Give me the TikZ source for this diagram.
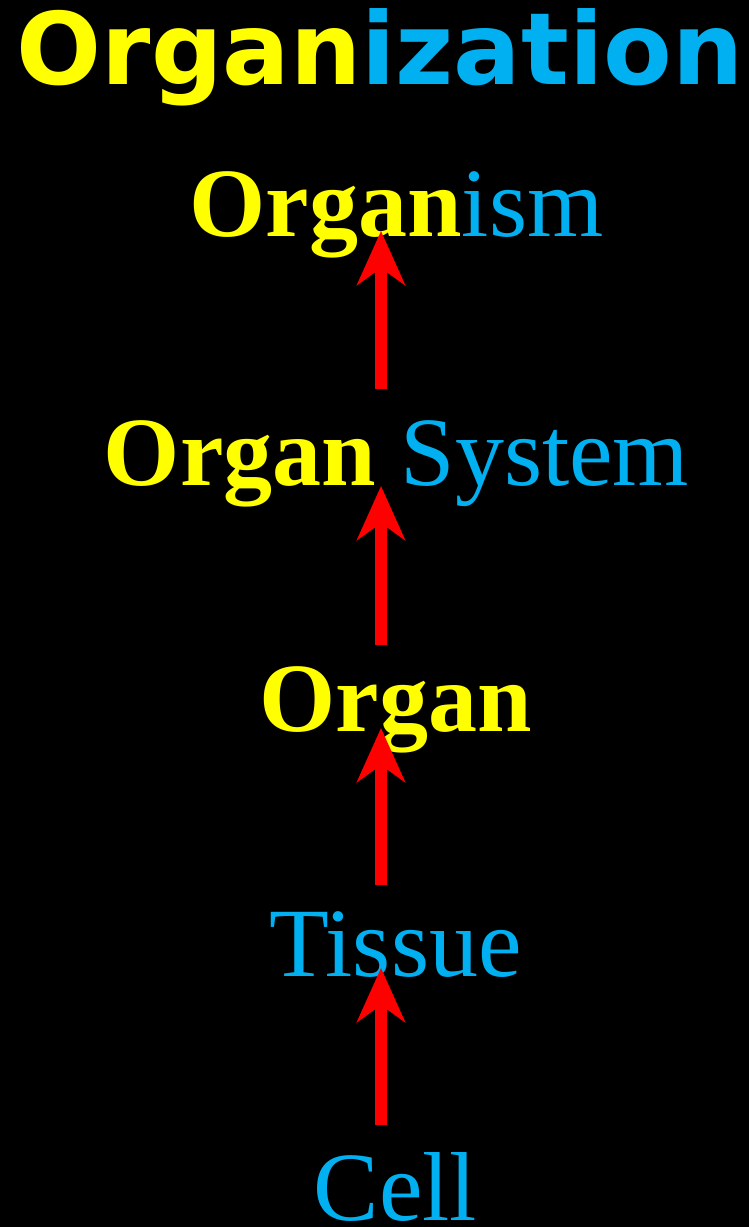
\documentclass[tikz,border=0pt]{standalone}
\usepackage{fontspec}
\setmainfont{Liberation Serif}
\newfontfamily\titlefont{DejaVu Sans}
\usetikzlibrary{arrows.meta}
\definecolor{ylw}{RGB}{255,255,0}
\definecolor{cyn}{RGB}{0,176,240}
\definecolor{rd}{RGB}{255,0,0}
\begin{document}
\begin{tikzpicture}[x=1pt,y=-1pt,
  lbl/.style={anchor=base,inner sep=0pt,font=\fontsize{98}{110}\selectfont},
  arr/.style={draw=rd,line width=12pt,-{Stealth[length=54pt,width=48pt,inset=17pt,fill=rd]}}]
\fill[black] (0,0) rectangle (749,1227);
\useasboundingbox (0,0) rectangle (749,1227);
\node[anchor=base,inner sep=0pt,font=\titlefont\bfseries\fontsize{100}{110}\selectfont] (title) at (380,84) {\textcolor{ylw}{Organ}\textcolor{cyn}{ization}};
\node[lbl] (organism) at (396.5,236) {\textcolor{ylw}{\bfseries Organ}\textcolor{cyn}{ism}};
\node[lbl] (orgsys) at (396.5,485) {\textcolor{ylw}{\bfseries Organ} \textcolor{cyn}{System}};
\node[lbl] (organ) at (395.5,731) {\textcolor{ylw}{\bfseries Organ}};
\node[lbl] (tissue) at (395.5,976) {\textcolor{cyn}{Tissue}};
\node[lbl] (cell) at (395.5,1220) {\textcolor{cyn}{Cell}};
\coordinate (t1) at (381,389); \coordinate (h1) at (381,231);
\coordinate (t2) at (381,645); \coordinate (h2) at (381,486);
\coordinate (t3) at (381,885); \coordinate (h3) at (381,728);
\coordinate (t4) at (381,1125); \coordinate (h4) at (381,968);
\draw[arr] (t1) -- (h1);
\draw[arr] (t2) -- (h2);
\draw[arr] (t3) -- (h3);
\draw[arr] (t4) -- (h4);
\end{tikzpicture}
\end{document}
